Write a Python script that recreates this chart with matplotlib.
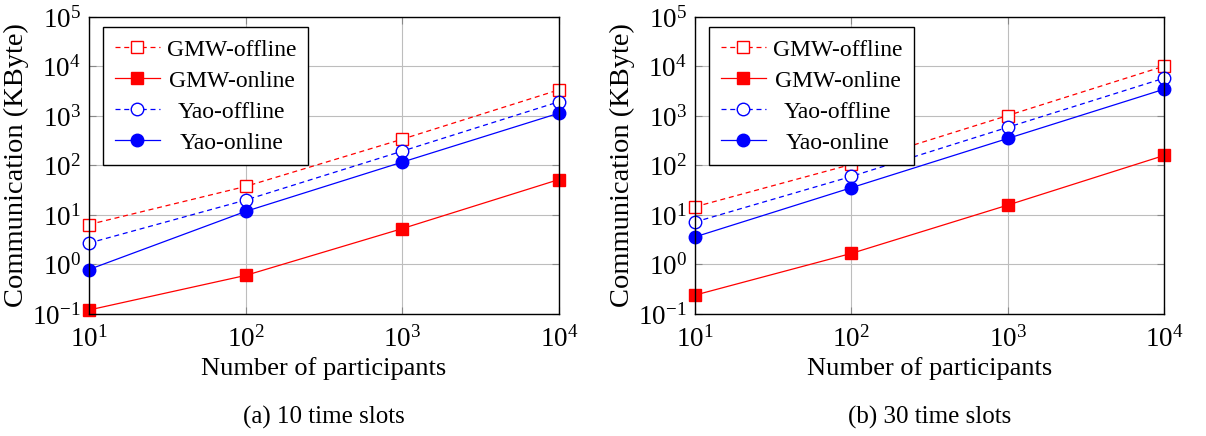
import matplotlib.pyplot as plt
from matplotlib.ticker import LogLocator, NullLocator

plt.rcParams['font.family'] = ['Liberation Serif', 'DejaVu Serif']
plt.rcParams['mathtext.fontset'] = 'stix'

participants = [10, 100, 1000, 10000]

# (a) 10 time slots
gmw_off_10 = [6.4, 37.7, 340, 3380]
gmw_on_10 = [0.12, 0.60, 5.3, 52]
yao_off_10 = [2.7, 20, 195, 1940]
yao_on_10 = [0.79, 11.8, 117, 1140]

# (b) 30 time slots
gmw_off_30 = [14.6, 105, 1020, 10150]
gmw_on_30 = [0.24, 1.67, 15.8, 159]
yao_off_30 = [7.2, 60, 590, 5800]
yao_on_30 = [3.6, 35.5, 351, 3470]

captions = ['(a) 10 time slots', '(b) 30 time slots']

fig = plt.figure(figsize=(12.06, 4.36), dpi=100)
ax1 = fig.add_axes([0.0738, 0.280, 0.3897, 0.681])
ax2 = fig.add_axes([0.5763, 0.280, 0.3889, 0.681])

panels = [
    (ax1, gmw_off_10, gmw_on_10, yao_off_10, yao_on_10),
    (ax2, gmw_off_30, gmw_on_30, yao_off_30, yao_on_30),
]

legends = []
for i, (ax, go, gn, yo, yn) in enumerate(panels):
    ax.plot(participants, go, color='red', linestyle=(0, (4, 3)), lw=0.9,
            marker='s', markersize=9, markerfacecolor='white', markeredgewidth=1.0,
            label='GMW-offline')
    ax.plot(participants, gn, color='red', linestyle='-', lw=0.9,
            marker='s', markersize=9, label='GMW-online')
    ax.plot(participants, yo, color='blue', linestyle=(0, (4, 3)), lw=0.9,
            marker='o', markersize=9, markerfacecolor='white', markeredgewidth=1.0,
            label='Yao-offline')
    ax.plot(participants, yn, color='blue', linestyle='-', lw=0.9,
            marker='o', markersize=9, label='Yao-online')

    ax.set_xscale('log')
    ax.set_yscale('log')
    ax.set_xlim(10, 10000)
    ax.set_ylim(0.1, 1e5)
    ax.xaxis.set_major_locator(LogLocator(base=10, numticks=10))
    ax.yaxis.set_major_locator(LogLocator(base=10, numticks=10))
    ax.xaxis.set_minor_locator(NullLocator())
    ax.yaxis.set_minor_locator(NullLocator())
    ax.grid(True, color='#bdbdbd', lw=0.8)
    ax.set_axisbelow(True)
    ax.tick_params(direction='in', length=5, top=True, right=True,
                   labelsize=19.5, color='#888888')
    ax.tick_params(axis='x', pad=9)
    ax.tick_params(axis='y', pad=6)
    for s in ax.spines.values():
        s.set_linewidth(1.0)
    ax.set_xlabel('Number of participants', fontsize=19, labelpad=3)
    ax.set_ylabel('Communication (KByte)', fontsize=20.5, labelpad=2)
    for ln in ax.get_lines():
        ln.set_clip_on(False)
    leg = ax.legend(loc='upper left', fontsize=17, fancybox=False,
                    edgecolor='black', framealpha=1, borderpad=0.5,
                    handlelength=1.9, handletextpad=0.3, labelspacing=0.4,
                    borderaxespad=0, bbox_to_anchor=(0.03, 0.965))
    leg.get_frame().set_linewidth(1.0)
    legends.append(leg)
    ax.text(0.5, -0.35, captions[i], transform=ax.transAxes,
            ha='center', va='center', fontsize=18)

# centre the legend entries like the original
fig.canvas.draw()
renderer = fig.canvas.get_renderer()
for leg in legends:
    texts = leg.get_texts()
    widths = [t.get_window_extent(renderer).width for t in texts]
    maxw = max(widths)
    for t, w in zip(texts, widths):
        t.set_position(((maxw - w) / 2, 0))

fig.savefig('out.png', dpi=100)
